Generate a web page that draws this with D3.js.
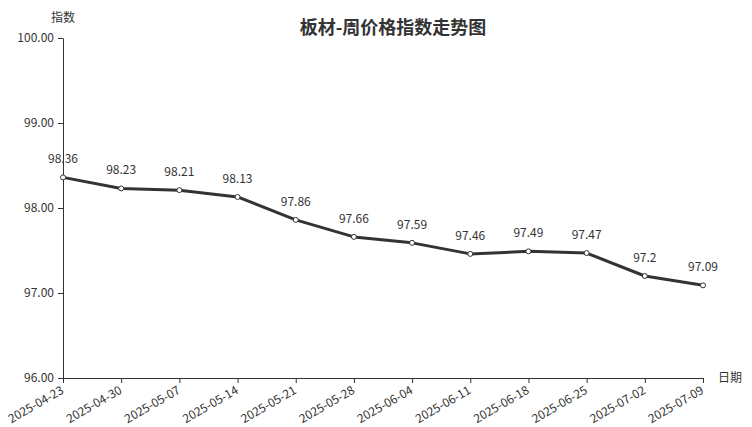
<!DOCTYPE html>
<html><head><meta charset="utf-8">
<script src="https://cdn.jsdelivr.net/npm/d3@7"></script>
<style>body{margin:0;background:#fff;font-family:"Noto Sans CJK SC","Noto Sans",sans-serif;}</style>
</head><body><svg id="c" width="752" height="427"></svg>
<script>
const dates = ["2025-04-23","2025-04-30","2025-05-07","2025-05-14","2025-05-21","2025-05-28","2025-06-04","2025-06-11","2025-06-18","2025-06-25","2025-07-02","2025-07-09"];
const values = [98.36,98.23,98.21,98.13,97.86,97.66,97.59,97.46,97.49,97.47,97.2,97.09];
const valueLabels = ["98.36","98.23","98.21","98.13","97.86","97.66","97.59","97.46","97.49","97.47","97.2","97.09"];
const yTicks = [96,97,98,99,100];

const svg = d3.select("#c");
const L=63,R=703,T=38,B=378;
const x = d3.scalePoint().domain(dates).range([L,R]);
const y = d3.scaleLinear().domain([96,100]).range([B,T]);
const font = '"Noto Sans CJK SC","Noto Sans",sans-serif';

svg.append("text").attr("x",393).attr("y",34).attr("text-anchor","middle")
  .attr("font-size",18).attr("font-weight","bold").attr("fill","#333").attr("font-family",font)
  .text("板材-周价格指数走势图");

const ya = svg.append("g").attr("transform",`translate(${L},0)`)
  .call(d3.axisLeft(y).tickValues(yTicks).tickFormat(d3.format(".2f")).tickSize(5).tickSizeOuter(0));
ya.select(".domain").attr("stroke","#333");
ya.selectAll(".tick line").attr("stroke","#333");
ya.selectAll("text").attr("font-size",12).attr("fill","#333").attr("font-family",font).attr("dx","-1");

svg.append("text").attr("x",63).attr("y",22).attr("text-anchor","middle").attr("font-size",12)
  .attr("fill","#333").attr("font-family",font).text("指数");

const xa = svg.append("g").attr("transform",`translate(0,${B})`)
  .call(d3.axisBottom(x).tickSize(5).tickSizeOuter(0));
xa.select(".domain").attr("stroke","#333");
xa.selectAll(".tick line").attr("stroke","#333");
xa.selectAll("text").attr("font-size",12).attr("fill","#333").attr("font-family",font)
  .attr("text-anchor","end").attr("x",0).attr("y",0).attr("dy","0.35em")
  .attr("transform","translate(-1,11) rotate(-30)");

svg.append("text").attr("x",718).attr("y",382).attr("font-size",12)
  .attr("fill","#333").attr("font-family",font).text("日期");

const line = d3.line().x((d,i)=>x(dates[i])).y(d=>y(d));
svg.append("path").datum(values).attr("d",line).attr("fill","none")
  .attr("stroke","#333").attr("stroke-width",3).attr("stroke-linejoin","round");

svg.selectAll("circle.p").data(values).enter().append("circle")
  .attr("cx",(d,i)=>x(dates[i])).attr("cy",d=>y(d)).attr("r",2.5)
  .attr("fill","#fff").attr("stroke","#333").attr("stroke-width",1);

svg.selectAll("text.v").data(values).enter().append("text")
  .attr("x",(d,i)=>x(dates[i])).attr("y",d=>y(d)-14).attr("text-anchor","middle")
  .attr("font-size",12).attr("fill","#333").attr("font-family",font)
  .text((d,i)=>valueLabels[i]);
</script></body></html>
